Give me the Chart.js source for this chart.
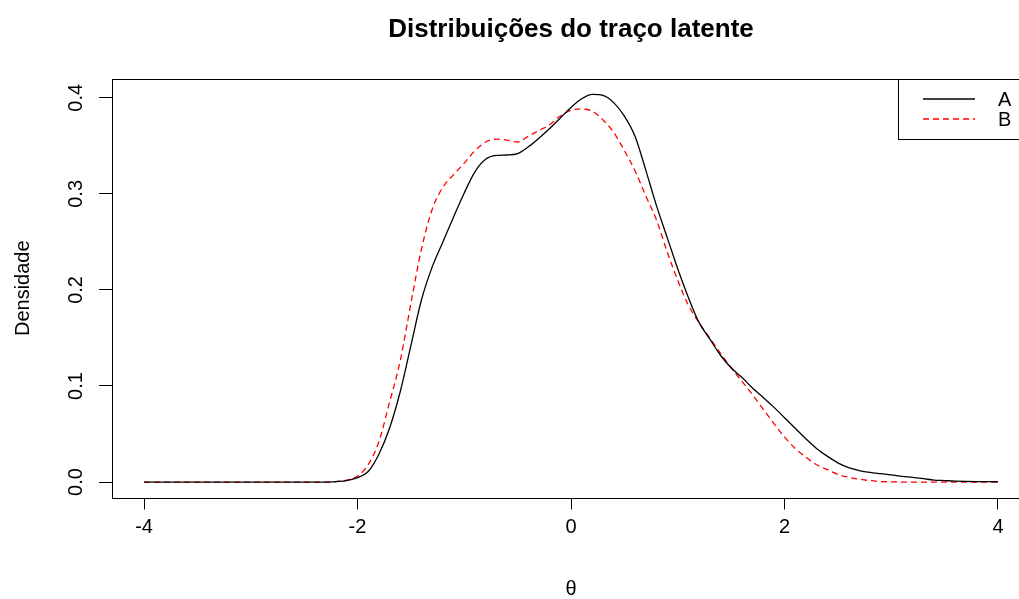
<!DOCTYPE html>
<html>
<head>
<meta charset="utf-8">
<script src="https://cdn.jsdelivr.net/npm/chart.js@4/dist/chart.umd.min.js"></script>
<style>
  html, body { margin: 0; padding: 0; background: #fff; overflow: hidden; }
  #wrap { width: 1019px; height: 599px; overflow: hidden; }
</style>
</head>
<body>
<div id="wrap"><canvas id="myChart" width="1030" height="599"></canvas></div>
<script>
// theta grid, -4 to 4 in steps of 0.1
var theta = [
  -4.0,-3.9,-3.8,-3.7,-3.6,-3.5,-3.4,-3.3,-3.2,-3.1,
  -3.0,-2.9,-2.8,-2.7,-2.6,-2.5,-2.4,-2.3,-2.2,-2.1,
  -2.0,-1.9,-1.8,-1.7,-1.6,-1.5,-1.4,-1.3,-1.2,-1.1,
  -1.0,-0.9,-0.8,-0.7,-0.6,-0.5,-0.4,-0.3,-0.2,-0.1,
   0.0, 0.1, 0.2, 0.3, 0.4, 0.5, 0.6, 0.7, 0.8, 0.9,
   1.0, 1.1, 1.2, 1.3, 1.4, 1.5, 1.6, 1.7, 1.8, 1.9,
   2.0, 2.1, 2.2, 2.3, 2.4, 2.5, 2.6, 2.7, 2.8, 2.9,
   3.0, 3.1, 3.2, 3.3, 3.4, 3.5, 3.6, 3.7, 3.8, 3.9,
   4.0
];
// density of group A
var densA = [
  0,0,0,0,0,0,0,0,0,0,
  0,0,0,0,0,0,0,0,0.0005,0.0015,
  0.0045,0.011,0.029,0.056,0.094,0.142,0.190,0.224,0.250,0.276,
  0.301,0.323,0.336,0.340,0.3405,0.342,0.349,0.358,0.368,0.379,
  0.390,0.399,0.4035,0.4025,0.395,0.381,0.360,0.325,0.288,0.255,
  0.222,0.192,0.166,0.149,0.132,0.119,0.109,0.098,0.088,0.078,
  0.067,0.056,0.045,0.035,0.027,0.020,0.015,0.012,0.010,0.0087,
  0.0075,0.006,0.0048,0.0035,0.002,0.0015,0.001,0.0007,0.0005,0.0004,
  0.0003
];
// density of group B
var densB = [
  0,0,0,0,0,0,0,0,0,0,
  0,0,0,0,0,0,0,0,0.0005,0.002,
  0.006,0.018,0.042,0.083,0.126,0.186,0.243,0.284,0.307,0.320,
  0.332,0.345,0.354,0.357,0.356,0.354,0.360,0.366,0.372,0.381,
  0.387,0.3885,0.386,0.377,0.364,0.345,0.324,0.298,0.273,0.240,
  0.210,0.184,0.166,0.150,0.134,0.119,0.105,0.091,0.076,0.061,
  0.047,0.035,0.026,0.018,0.013,0.008,0.005,0.003,0.0015,0.0005,
  0.0002,0,0,0,0,0,0,0,0,0,
  0
];
var xTicks = [-4, -2, 0, 2, 4];
var yTicks = [0, 0.1, 0.2, 0.3, 0.4];
var seriesNames = ["A", "B"];

function pts(ys) {
  return theta.map(function (t, i) { return { x: t, y: ys[i] }; });
}

var FONT = "'Liberation Sans', Arial, sans-serif";

// title, rotated y labels, box and legend drawn R-style
var baseGraphics = {
  id: 'baseGraphics',
  afterDraw: function (chart) {
    var c = chart.ctx, a = chart.chartArea;
    c.save();
    c.strokeStyle = '#000';
    c.lineWidth = 1;
    c.setLineDash([]);
    c.strokeRect(Math.round(a.left) + 0.5, Math.round(a.top) + 0.5,
                 Math.round(a.right - a.left), Math.round(a.bottom - a.top));

    c.fillStyle = '#000';
    c.font = 'bold 26px ' + FONT;
    c.textAlign = 'center';
    c.textBaseline = 'middle';
    c.fillText('Distribuições do traço latente', (a.left + a.right) / 2, 30);

    var ys = chart.scales.y;
    c.font = '20px ' + FONT;
    yTicks.forEach(function (v) {
      c.save();
      c.translate(76, ys.getPixelForValue(v));
      c.rotate(-Math.PI / 2);
      c.fillText(v.toFixed(1), 0, 0);
      c.restore();
    });

    // legend, anchored top right
    var lx = 898, ly = Math.round(a.top);
    c.strokeRect(lx + 0.5, ly + 0.5, Math.round(a.right) - lx, 60);
    chart.data.datasets.forEach(function (ds, i) {
      var y = ly + 20 + i * 20;
      c.strokeStyle = ds.borderColor;
      c.lineWidth = ds.borderWidth;
      c.setLineDash(ds.borderDash || []);
      c.beginPath();
      c.moveTo(923, y);
      c.lineTo(975, y);
      c.stroke();
      c.fillStyle = '#000';
      c.textAlign = 'left';
      c.fillText(ds.label, 998, y + 1);
    });
    c.restore();
  }
};

var ctx = document.getElementById("myChart");
var myChart = new Chart(ctx, {
  type: 'line',
  data: {
    datasets: [
      {
        label: seriesNames[0],
        data: pts(densA),
        borderColor: '#000000',
        borderWidth: 1.3,
        cubicInterpolationMode: 'monotone',
        pointRadius: 0,
        fill: false
      },
      {
        label: seriesNames[1],
        data: pts(densB),
        borderColor: '#ff0000',
        borderWidth: 1.3,
        borderDash: [6, 4],
        cubicInterpolationMode: 'monotone',
        pointRadius: 0,
        fill: false
      }
    ]
  },
  options: {
    responsive: false,
    animation: false,
    events: [],
    layout: { padding: { top: 79, right: 0, left: 0, bottom: 0 } },
    plugins: { legend: { display: false }, tooltip: { enabled: false }, title: { display: false } },
    scales: {
      x: {
        type: 'linear',
        min: -4.3,
        max: 4.3,
        afterBuildTicks: function (s) { s.ticks = xTicks.map(function (v) { return { value: v }; }); },
        afterFit: function (s) { s.height = 101.5; },
        grid: { drawOnChartArea: false, drawTicks: true, tickLength: 12, color: '#000', lineWidth: 1 },
        border: { display: false },
        ticks: { color: '#000', font: { family: FONT, size: 20 }, padding: 6, maxRotation: 0 },
        title: { display: true, text: 'θ', color: '#000', font: { family: FONT, size: 20, lineHeight: 1 }, padding: { top: 0, bottom: 0 } }
      },
      y: {
        type: 'linear',
        min: -0.0161,
        max: 0.4196,
        afterBuildTicks: function (s) { s.ticks = yTicks.map(function (v) { return { value: v }; }); },
        afterFit: function (s) { s.width = 112; },
        grid: { drawOnChartArea: false, drawTicks: true, tickLength: 13, color: '#000', lineWidth: 1 },
        border: { display: false },
        ticks: { display: false },
        title: { display: true, text: 'Densidade', color: '#000', font: { family: FONT, size: 20, lineHeight: 1 }, padding: { top: 13, bottom: 0 } }
      }
    }
  },
  plugins: [baseGraphics]
});
</script>
</body>
</html>
